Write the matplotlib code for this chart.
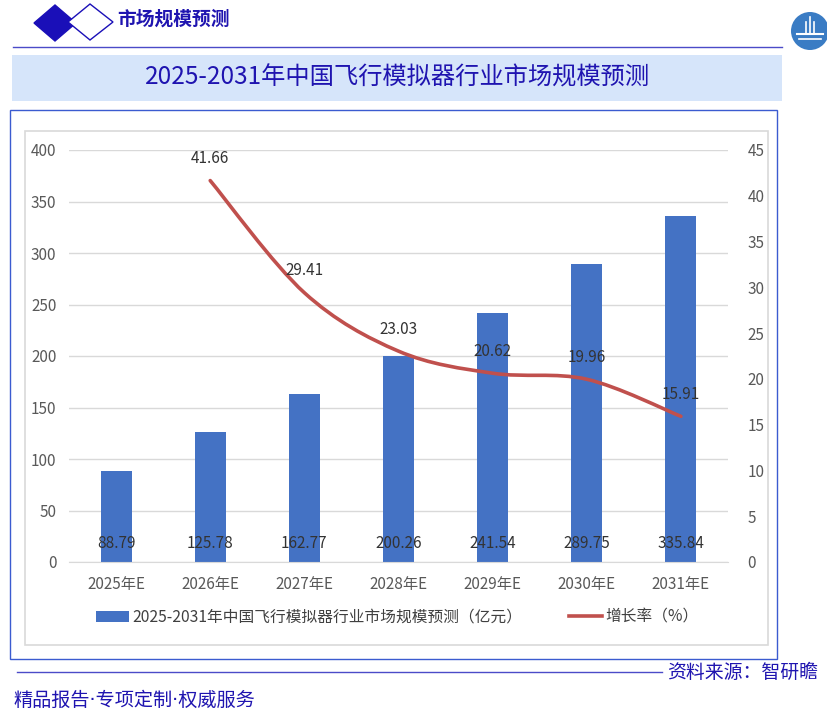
import matplotlib.pyplot as plt
from matplotlib.patches import Polygon, Rectangle, Circle, PathPatch, Patch
from matplotlib.lines import Line2D
from matplotlib.path import Path

plt.rcParams['font.family'] = ['Noto Sans CJK SC', 'DejaVu Sans']

# 数据
years = ["2025年E", "2026年E", "2027年E", "2028年E", "2029年E", "2030年E", "2031年E"]
market_size = [88.79, 125.78, 162.77, 200.26, 241.54, 289.75, 335.84]
growth_idx = [1, 2, 3, 4, 5, 6]
growth_rate = [41.66, 29.41, 23.03, 20.62, 19.96, 15.91]

title = "2025-2031年中国飞行模拟器行业市场规模预测"
bar_label = "2025-2031年中国飞行模拟器行业市场规模预测（亿元）"
line_label = "增长率（%）"

W, H = 828, 723
BLUE = "#1F14B0"
BAR = "#4472C4"
RED = "#C0504D"
GRAY = "#595959"
FS = 11


def smooth_path(xs, ys):
    # Excel 风格的平滑曲线（贝塞尔控制点）
    pts = list(zip(xs, ys))
    n = len(pts)
    verts = [pts[0]]
    codes = [Path.MOVETO]
    for i in range(n - 1):
        p0 = pts[i - 1] if i > 0 else pts[i]
        p1, p2 = pts[i], pts[i + 1]
        p3 = pts[i + 2] if i + 2 < n else pts[i + 1]
        c1 = (p1[0] + (p2[0] - p0[0]) / 6, p1[1] + (p2[1] - p0[1]) / 6)
        c2 = (p2[0] - (p3[0] - p1[0]) / 6, p2[1] - (p3[1] - p1[1]) / 6)
        verts += [c1, c2, p2]
        codes += [Path.CURVE4] * 3
    return Path(verts, codes)


fig = plt.figure(figsize=(W / 100, H / 100), dpi=100)

# 背景装饰层（像素坐标）
bg = fig.add_axes([0, 0, 1, 1])
bg.set_xlim(0, W)
bg.set_ylim(H, 0)
bg.axis("off")

bg.add_patch(Polygon([(34, 23), (55, 5), (76, 23), (55, 41)], closed=True,
                     facecolor="#1A0FB8", edgecolor="#1A0FB8"))
bg.add_patch(Polygon([(68, 22), (90, 4), (113, 22), (90, 40)], closed=True,
                     facecolor="white", edgecolor="#1A0FB8", lw=1))
bg.text(117, 19, "市场规模预测", fontsize=13.5, fontweight="bold", color=BLUE,
        va="center", ha="left")
bg.plot([13, 782], [47, 47], color="#4B4BC8", lw=1)

bg.add_patch(Circle((810, 31), 19, facecolor="#3A7CC4", edgecolor="none"))
bg.plot([797, 823], [34, 34], color="white", lw=1.5)
bg.plot([799, 821], [39, 39], color="white", lw=1.2)
for lx, top in [(806, 22), (810, 17), (814, 22)]:
    bg.plot([lx, lx], [top, 33], color="white", lw=1.2)

bg.add_patch(Rectangle((12, 55), 770, 46, facecolor="#D6E5FA", edgecolor="none"))
bg.text(398, 78, title, fontsize=17.5, color=BLUE, ha="center", va="center")

bg.add_patch(Rectangle((10, 110), 767, 549, facecolor="white", edgecolor="#3B5BD0", lw=1))
bg.add_patch(Rectangle((25, 131), 743, 514, facecolor="white", edgecolor="#D9D9D9", lw=1.2))

bg.plot([17, 662], [672, 672], color="#4B4BC8", lw=1)
bg.text(818, 672, "资料来源：智研瞻", fontsize=13.6, color=BLUE, ha="right", va="center")
bg.text(13, 700, "精品报告·专项定制·权威服务", fontsize=13.8, color=BLUE, ha="left",
        va="center", family=["DejaVu Sans", "Noto Sans CJK SC"])

# 主图
left, right, top, bottom = 69, 728, 150, 562
ax = fig.add_axes([left / W, 1 - bottom / H, (right - left) / W, (bottom - top) / H])
ax.set_facecolor("none")
x = list(range(len(years)))
ax.bar(x, market_size, width=0.33, color=BAR, zorder=2)
ax.set_xlim(-0.5, len(years) - 0.5)
ax.set_ylim(0, 400)
ax.set_yticks(range(0, 401, 50))
ax.set_xticks(x)
ax.set_xticklabels(years)
ax.grid(axis="y", color="#D9D9D9", lw=1, zorder=0)
ax.set_axisbelow(True)
for s in ["top", "left", "right"]:
    ax.spines[s].set_visible(False)
ax.spines["bottom"].set_color("#D9D9D9")
ax.tick_params(axis="both", length=0, labelsize=FS, colors=GRAY)
ax.tick_params(axis="y", pad=9)
ax.tick_params(axis="x", pad=10)

for xi, v in zip(x, market_size):
    ax.annotate(f"{v:.2f}", xy=(xi, 0), xytext=(0, 18), textcoords="offset pixels",
                ha="center", va="center", fontsize=FS, color="#333333", zorder=3)

ax2 = ax.twinx()
ax2.set_ylim(0, 45)
ax2.set_yticks(range(0, 46, 5))
for s in ax2.spines.values():
    s.set_visible(False)
ax2.tick_params(axis="y", length=0, labelsize=FS, colors=GRAY, pad=14)
ax2.add_patch(PathPatch(smooth_path(growth_idx, growth_rate), fill=False,
                        edgecolor=RED, lw=2.6, capstyle="round"))
for xi, v in zip(growth_idx, growth_rate):
    ax2.annotate(f"{v:.2f}", xy=(xi, v), xytext=(0, 22), textcoords="offset pixels",
                 ha="center", va="center", fontsize=FS, color="#333333")

handles = [Patch(facecolor=BAR, edgecolor="none"),
           Line2D([0], [0], color=RED, lw=2.6)]
fig.legend(handles, [bar_label, line_label], loc="center",
           bbox_to_anchor=(397 / W, 1 - 617 / H), ncol=2, frameon=False,
           fontsize=11.3, labelcolor="#404040", handlelength=2.1,
           handletextpad=0.2, columnspacing=3.0)

fig.savefig("out.png", dpi=100)
